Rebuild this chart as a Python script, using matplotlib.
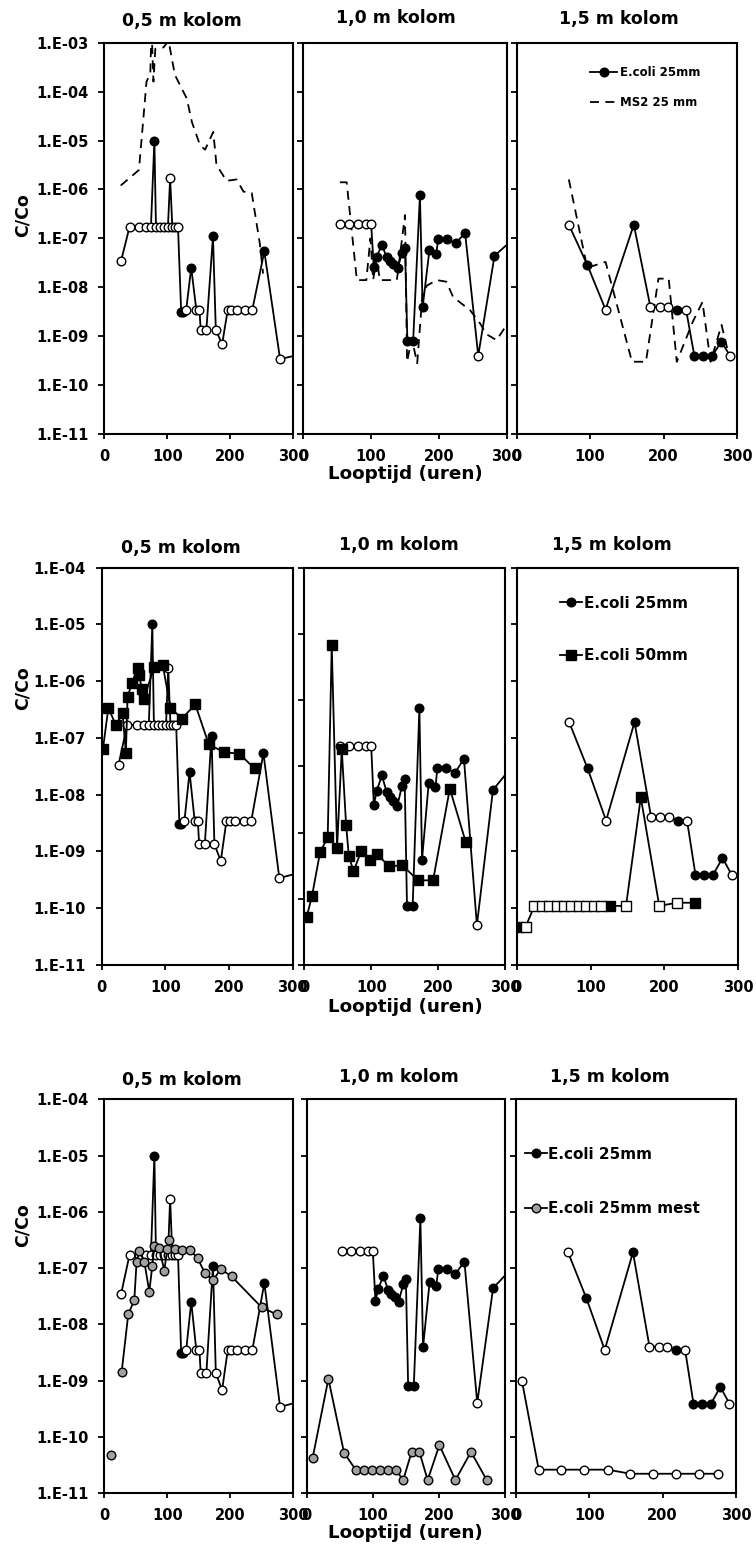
import numpy as np
import matplotlib.pyplot as plt
from matplotlib.lines import Line2D
from matplotlib.ticker import NullLocator

plt.rcParams['font.family'] = ['DejaVu Sans']
plt.rcParams['font.weight'] = 'bold'

W, H = 756, 1546

# E.coli 25 mm (zelfde reeks in elke rij), 1 = boven detectiegrens
ec05_x = [26.5, 40, 55, 66, 74, 79.5, 82, 88, 95, 101, 104.5, 108, 112, 117, 122, 125, 130,
          138, 146, 151, 153, 162, 172.5, 177, 187, 196, 201, 210, 224, 235, 254, 279, 320]
ec05_y = [3.4e-8, 1.7e-7, 1.7e-7, 1.7e-7, 1.7e-7, 1.0e-5, 1.7e-7, 1.7e-7, 1.7e-7, 1.7e-7,
          1.7e-6, 1.7e-7, 1.7e-7, 1.7e-7, 3.1e-9, 3.1e-9, 3.5e-9, 2.5e-8, 3.5e-9, 3.5e-9,
          1.35e-9, 1.35e-9, 1.1e-7, 1.35e-9, 6.8e-10, 3.5e-9, 3.5e-9, 3.5e-9, 3.5e-9, 3.5e-9,
          5.4e-8, 3.4e-10, 4.5e-10]
ec05_det = [0, 0, 0, 0, 0, 1, 0, 0, 0, 0, 0, 0, 0, 0, 1, 1, 0, 1, 0, 0, 0, 0, 1, 0, 0,
            0, 0, 0, 0, 0, 1, 0, 0]

ec10_x = [54, 67, 80, 92, 100, 104, 108, 116, 123, 128, 133, 139, 146, 150, 153.5, 162,
          172, 176, 186, 196, 199, 211.5, 225, 238.6, 258, 282, 320]
ec10_y = [2e-7, 2e-7, 2e-7, 2e-7, 2e-7, 2.6e-8, 4.2e-8, 7.3e-8, 4.1e-8, 3.5e-8, 3e-8, 2.5e-8,
          5.1e-8, 6.5e-8, 7.9e-10, 7.9e-10, 7.6e-7, 3.9e-9, 5.7e-8, 4.8e-8, 9.6e-8, 9.6e-8,
          7.9e-8, 1.3e-7, 4e-10, 4.4e-8, 1.3e-7]
ec10_det = [0, 0, 0, 0, 0] + [1] * 19 + [0, 1, 1]

ec15_x = [71, 96, 121, 159.5, 182, 194.5, 205.7, 218.4, 230.6, 242, 253.8, 266, 278.6, 291]
ec15_y = [1.9e-7, 2.9e-8, 3.5e-9, 1.9e-7, 4e-9, 4e-9, 4e-9, 3.5e-9, 3.5e-9, 3.9e-10,
          3.9e-10, 3.9e-10, 7.7e-10, 3.9e-10]
ec15_det = [0, 1, 0, 1, 0, 0, 0, 1, 0, 1, 1, 1, 1, 0]

# MS2 25 mm (rij 1)
ms05_x = [26, 55, 67, 73, 75, 78, 81, 94, 102, 112, 131, 139, 152, 160, 173, 178, 194, 210,
          221, 234, 247, 252]
ms05_y = [1.2e-6, 2.5e-6, 1.6e-4, 2.3e-4, 2e-3, 1.6e-4, 7.5e-4, 8e-4, 1.1e-3, 2.2e-4, 7.2e-5,
          2.4e-5, 8e-6, 6.5e-6, 1.5e-5, 3.2e-6, 1.5e-6, 1.6e-6, 9e-7, 8.5e-7, 7.6e-8, 1.9e-8]
ms10_x = [54, 64, 79, 93, 99, 103, 108, 113, 138, 150, 153, 160, 168, 176, 183, 197, 211,
          221, 246, 261, 270, 285, 300]
ms10_y = [1.4e-6, 1.4e-6, 1.4e-8, 1.4e-8, 1e-7, 1.4e-8, 4e-8, 1.4e-8, 1.4e-8, 3e-7, 3e-10,
          9e-10, 2.8e-10, 8e-9, 1.1e-8, 1.4e-8, 1.3e-8, 6.3e-9, 3.4e-9, 1.8e-9, 1.1e-9,
          8.3e-10, 1.7e-9]
ms15_x = [71, 96, 121, 157, 176, 193, 207, 218, 240, 253, 264, 279, 290]
ms15_y = [1.6e-6, 2.5e-8, 3.3e-8, 3e-10, 3e-10, 1.5e-8, 1.5e-8, 3e-10, 2e-9, 5e-9, 3e-10,
          1.7e-9, 3.5e-10]

# E.coli 50 mm (rij 2)
e50_05_x = [2, 10.5, 22, 32.7, 38, 40.6, 47.4, 56.4, 59, 62.7, 65.9, 82.8, 96, 108, 126,
            147, 168, 192, 216, 240]
e50_05_y = [6.5e-8, 3.4e-7, 1.7e-7, 2.7e-7, 5.5e-8, 5.2e-7, 9.3e-7, 1.7e-6, 1.3e-6, 7.3e-7,
            4.8e-7, 1.8e-6, 1.9e-6, 3.4e-7, 2.2e-7, 3.9e-7, 7.8e-8, 5.6e-8, 5.3e-8, 2.9e-8]
e50_10_x = [3.5, 11.5, 23.5, 35, 41, 49, 56, 62.5, 66.5, 73.5, 85, 97.5, 109, 126.5, 146.5,
            170, 192.5, 217.5, 241.5]
e50_10_y = [5.3e-10, 1.1e-9, 5e-9, 8.5e-9, 6.7e-6, 5.9e-9, 1.8e-7, 1.3e-8, 4.5e-9, 2.6e-9,
            5.2e-9, 3.9e-9, 4.7e-9, 3.1e-9, 3.2e-9, 1.9e-9, 1.9e-9, 4.6e-8, 7.1e-9]
e50_15_x = [2, 12, 24, 34, 44, 54, 64, 74, 84, 94, 104, 114, 126, 148, 168, 193, 217, 241]
e50_15_y = [4.6e-11, 4.7e-11] + [1.1e-10] * 10 + [1.1e-10, 1.1e-10, 9e-9, 1.1e-10,
                                                  1.25e-10, 1.25e-10]
e50_15_det = [1, 0] + [0] * 10 + [1, 0, 1, 0, 0, 1]

# E.coli 25 mm mest (rij 3), nan = ontbrekende meting
m05_x = [10.6, np.nan, 27.5, 38, 47.6, 51.3, 55.6, 63.5, 71.4, 76.2, 79.4, 87.3, 95.2, 100,
         103, 112, 123.8, 136, 148, 160, 173, 184.7, 202, 249.7, 273.5]
m05_y = [4.8e-11, np.nan, 1.4e-9, 1.5e-8, 2.7e-8, 1.3e-7, 2e-7, 1.3e-7, 3.8e-8, 1.1e-7,
         2.5e-7, 2.3e-7, 8.9e-8, 2.2e-7, 3.2e-7, 2.2e-7, 2.1e-7, 2.1e-7, 1.5e-7, 8e-8,
         6.1e-8, 9.6e-8, 7.1e-8, 2e-8, 1.5e-8]
m10_x = [9, 32.8, 56.5, 74, 86.7, 98.8, 111, 122.5, 134.6, 146, 158.8, 170.4, 183, 200.7,
         225, 248.6, 272.3]
m10_y = [4.2e-11, 1.07e-9, 5.2e-11, 2.6e-11, 2.6e-11, 2.6e-11, 2.6e-11, 2.6e-11, 2.6e-11,
         1.7e-11, 5.4e-11, 5.4e-11, 1.7e-11, 7.1e-11, 1.7e-11, 5.4e-11, 1.7e-11]
m15_x = [8, 31, 62, 93, 125, 156, 187, 218, 249, 276]
m15_y = [1.0e-9, 2.6e-11, 2.6e-11, 2.6e-11, 2.6e-11, 2.2e-11, 2.2e-11, 2.2e-11, 2.2e-11,
         2.2e-11]

x_ticks = [0, 100, 200, 300]
titels = ['0,5 m kolom', '1,0 m kolom', '1,5 m kolom']


def reeks(ax, x, y, det, marker='o', kleur='k', ms=6.2, z=3):
    x = np.asarray(x, float)
    y = np.asarray(y, float)
    det = np.asarray(det, bool)
    ax.plot(x, y, '-', color='k', lw=1.3, zorder=z)
    ax.plot(x[det], y[det], ls='none', marker=marker, mfc=kleur, mec='k', ms=ms, mew=1.0,
            zorder=z + 0.1)
    ax.plot(x[~det], y[~det], ls='none', marker=marker, mfc='white', mec='k', ms=ms,
            mew=1.0, zorder=z + 0.1)


def stippel(ax, x, y):
    ax.plot(x, y, color='k', lw=1.3, ls=(0, (5, 3.5)), zorder=2)


def px(x, y):
    return x / W, 1 - y / H


fig = plt.figure(figsize=(W / 100, H / 100), dpi=100)

rijen = [(42.7, 434.0), (567.7, 965.0), (1099.3, 1493.0)]
kolommen = [
    [(104.3, 293.3), (303.3, 506.7), (516.7, 737.0)],
    [(101.7, 292.7), (304.3, 505.0), (516.7, 738.3)],
    [(104.3, 293.3), (306.7, 505.0), (516.0, 736.0)],
]
ybereik = [[(-11, -3)] * 3, [(-11, -4), (-10, -4), (-11, -4)], [(-11, -4)] * 3]
titel_pos = [[(182, 21), (396, 18), (619, 19)],
             [(181, 548), (399, 545), (612, 545)],
             [(182, 1080), (399, 1077), (610, 1077)]]
ylabel_pos = [(23, 215), (23, 688), (23, 1225)]
xlabel_y = [474, 1007, 1533]

assen = []
for r, (y0, y1) in enumerate(rijen):
    rij = []
    for k, (x0, x1) in enumerate(kolommen[r]):
        ax = fig.add_axes([x0 / W, 1 - y1 / H, (x1 - x0) / W, (y1 - y0) / H])
        lo, hi = ybereik[r][k]
        ax.set_yscale('log')
        ax.set_xlim(0, 300)
        ax.set_ylim(10.0 ** lo, 10.0 ** hi)
        ax.set_xticks(x_ticks)
        ax.set_xticklabels([str(t) for t in x_ticks])
        exps = list(range(lo, hi + 1))
        ax.set_yticks([10.0 ** e for e in exps])
        if k == 0:
            ax.set_yticklabels(['1.E-%02d' % (-e) for e in exps])
        else:
            ax.set_yticklabels([])
        ax.yaxis.set_minor_locator(NullLocator())
        ax.tick_params(axis='y', direction='out', length=4.5, width=1.3, labelsize=10.5, pad=7)
        ax.tick_params(axis='x', direction='out', length=3.5, width=1.3, labelsize=10.5, pad=7)
        for s in ax.spines.values():
            s.set_linewidth(1.5)
        fig.text(*px(*titel_pos[r][k]), titels[k], ha='center', va='center', fontsize=12.5,
                 fontweight='bold')
        rij.append(ax)
    assen.append(rij)
    fig.text(*px(*ylabel_pos[r]), 'C/Co', rotation=90, ha='center', va='center',
             fontsize=12.5, fontweight='bold')
    fig.text(*px(405, xlabel_y[r]), 'Looptijd (uren)', ha='center', va='center',
             fontsize=13.2, fontweight='bold')

ecoli = [(ec05_x, ec05_y, ec05_det), (ec10_x, ec10_y, ec10_det), (ec15_x, ec15_y, ec15_det)]

# rij 1: E.coli en MS2
for k, (mx, my) in enumerate([(ms05_x, ms05_y), (ms10_x, ms10_y), (ms15_x, ms15_y)]):
    stippel(assen[0][k], mx, my)
    reeks(assen[0][k], *ecoli[k])

# rij 2: E.coli 25 mm en 50 mm
for k in range(3):
    reeks(assen[1][k], *ecoli[k], z=3)
reeks(assen[1][0], e50_05_x, e50_05_y, [1] * len(e50_05_x), marker='s', ms=6.5, z=4)
reeks(assen[1][1], e50_10_x, e50_10_y, [1] * len(e50_10_x), marker='s', ms=6.5, z=4)
reeks(assen[1][2], e50_15_x, e50_15_y, e50_15_det, marker='s', ms=6.5, z=4)

# rij 3: E.coli 25 mm en mest
for k in range(3):
    reeks(assen[2][k], *ecoli[k], z=3)
grijs = '#a0a0a0'
reeks(assen[2][0], m05_x, m05_y, [1] * len(m05_x), kleur=grijs, z=4)
reeks(assen[2][1], m10_x, m10_y, [1] * len(m10_x), kleur=grijs, z=4)
reeks(assen[2][2], m15_x, m15_y, [0] * len(m15_x), kleur=grijs, z=4)

# legenda's
h_ec = Line2D([], [], color='k', lw=1.3, marker='o', mfc='k', mec='k', ms=6.2)
h_ms2 = Line2D([], [], color='k', lw=1.3, ls=(0, (5, 3.5)))
h_50 = Line2D([], [], color='k', lw=1.3, marker='s', mfc='k', mec='k', ms=6.5)
h_mest = Line2D([], [], color='k', lw=1.3, marker='o', mfc=grijs, mec='k', ms=6.2)

leg_kw = dict(frameon=False, loc='upper left', borderpad=0, borderaxespad=0)
assen[0][2].legend([h_ec, h_ms2], ['E.coli 25mm', 'MS2 25 mm'], fontsize=8.5,
                   bbox_to_anchor=(0.333, 0.94), handlelength=2.3, handletextpad=0.25,
                   labelspacing=1.45, **leg_kw)
assen[1][2].legend([h_ec, h_50], ['E.coli 25mm', 'E.coli 50mm'], fontsize=11,
                   bbox_to_anchor=(0.195, 0.93), handlelength=1.45, handletextpad=0.1,
                   labelspacing=2.45, **leg_kw)
assen[2][2].legend([h_ec, h_mest], ['E.coli 25mm', 'E.coli 25mm mest'], fontsize=11,
                   bbox_to_anchor=(0.04, 0.88), handlelength=1.45, handletextpad=0.1,
                   labelspacing=2.6, **leg_kw)

fig.savefig('out.png', dpi=100)
